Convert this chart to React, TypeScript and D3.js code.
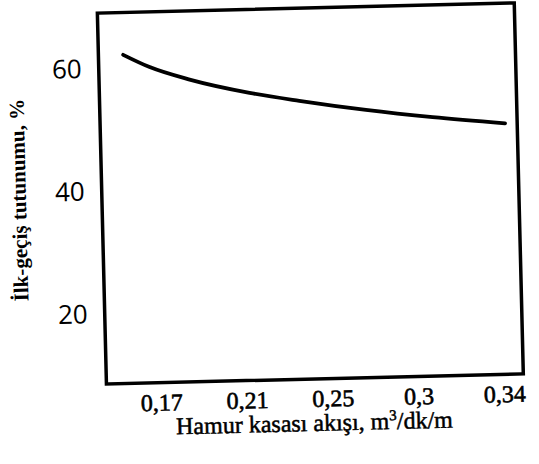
import React from "react";
import * as d3 from "d3";

// Data
const flow = [0.1559, 0.1681, 0.1866, 0.2144, 0.2375, 0.2731, 0.3095, 0.3432];
const retention = [62.1, 60.0, 57.8, 55.4, 53.9, 52.15, 50.7, 49.4];
const xTickValues = [0.17, 0.21, 0.25, 0.3, 0.34];
const xTickLabels = ["0,17", "0,21", "0,25", "0,3", "0,34"];
const yTickValues = [20, 40, 60];
const yTickLabels = ["20", "40", "60"];

const W = 539;
const H = 464;
const frame = { left: 102, top: 8, right: 519, bottom: 379 };
const serif = "'Liberation Serif', 'Times New Roman', serif";

export default function App() {
  // x axis ticks are equally spaced in the figure, so use a piecewise linear scale
  const x = d3
    .scaleLinear()
    .domain(xTickValues)
    .range(xTickValues.map((_, i) => 157 + i * 85.75));
  const y = d3.scaleLinear().domain([8.5, 69]).range([frame.bottom, frame.top]);

  const pts = flow.map((f, i) => [f, retention[i]] as [number, number]);
  const line = d3
    .line<[number, number]>()
    .x((d) => x(d[0]))
    .y((d) => y(d[1]))
    .curve(d3.curveMonotoneX);

  return (
    <svg
      width={W}
      height={H}
      style={{ position: "absolute", left: 0, top: 0, background: "#fff" }}
    >
      <g transform="rotate(-1.4, 310, 200)">
        <rect
          x={frame.left}
          y={frame.top}
          width={frame.right - frame.left}
          height={frame.bottom - frame.top}
          fill="none"
          stroke="#000"
          strokeWidth={3.5}
        />
        <path d={line(pts) || ""} fill="none" stroke="#000" strokeWidth={3.8} strokeLinecap="round" />
        {yTickValues.map((v, i) => (
          <text
            key={v}
            x={85}
            y={y(v)}
            dy="0.36em"
            textAnchor="end"
            fontFamily="'Open Sans', 'Liberation Sans', sans-serif"
            fontSize={26}
            fill="#000"
          >
            {yTickLabels[i]}
          </text>
        ))}
        {xTickValues.map((v, i) => (
          <text
            key={v}
            x={x(v)}
            y={407}
            textAnchor="middle"
            fontFamily={serif}
            fontSize={24}
            stroke="#000"
            strokeWidth={0.6}
            fill="#000"
          >
            {xTickLabels[i]}
          </text>
        ))}
        <text
          x={309}
          y={431}
          textAnchor="middle"
          fontFamily={serif}
          fontSize={24}
          stroke="#000"
          strokeWidth={0.5}
          fill="#000"
        >
          Hamur kasası akışı, m<tspan dy={-9} fontSize={15}>3</tspan>
          <tspan dy={9}>/dk/m</tspan>
        </text>
        <text
          transform={`translate(26, 193) rotate(-90)`}
          textAnchor="middle"
          fontFamily={serif}
          fontSize={21}
          fontWeight="bold"
          fill="#000"
        >
          İlk-geçiş tutunumu, %
        </text>
      </g>
    </svg>
  );
}
